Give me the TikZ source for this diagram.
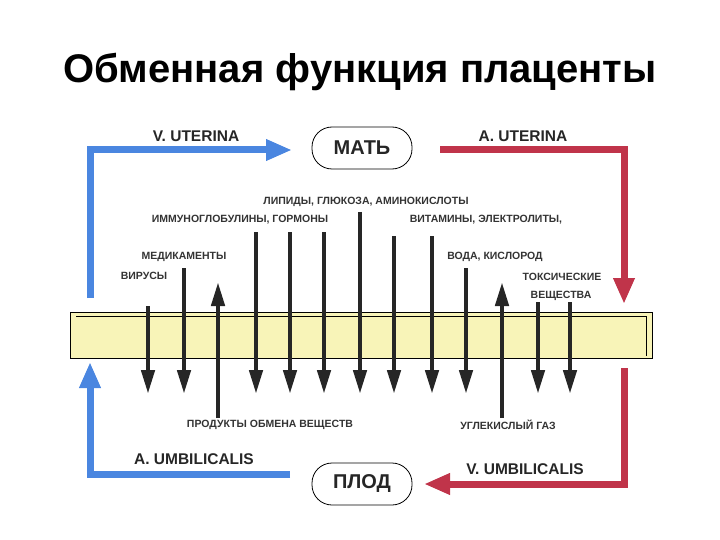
\documentclass[tikz,border=0pt]{standalone}
\usepackage{fontspec}
\setmainfont{Liberation Sans}
\usetikzlibrary{arrows.meta}
\begin{document}
\begin{tikzpicture}[x=1pt,y=-1pt,
  lbl/.style={font=\bfseries\fontsize{10.5}{11}\selectfont, text=black!80},
  big/.style={font=\bfseries\fontsize{15.5}{16}\selectfont, text=black!85},
  flow/.style={line width=4.5pt, draw=black!85, -{Triangle[width=13pt,length=24pt]}},
  vessel/.style={line width=7pt, -{Triangle[width=20pt,length=26pt]}},
  organ/.style={draw, thick, rounded corners=20pt, minimum width=100pt, minimum height=42pt, font=\bfseries\fontsize{20}{22}\selectfont, text=black!85}]
\useasboundingbox (0,0) rectangle (720,540);
\definecolor{bl}{HTML}{4A86E0}
\definecolor{rd}{HTML}{C0344A}
\definecolor{pl}{HTML}{F8F4B8}
\node[font=\bfseries\fontsize{40}{44}\selectfont] (title) at (360,72) {Обменная функция плаценты};
\node[organ] (mat) at (362,148) {МАТЬ};
\node[organ] (plod) at (362,484) {ПЛОД};
\node[draw, fill=pl, minimum width=582pt, minimum height=46pt, inner sep=0pt] (plac) at (361,335) {};
\draw (76,316) -- (646,316) -- (646,356);
\coordinate (b1) at (90,298); \coordinate (b2) at (90,150); \coordinate (b3) at (292,150);
\draw[vessel, draw=bl] (b1) -- (b2) -- (b3);
\coordinate (r1) at (440,150); \coordinate (r2) at (624,150); \coordinate (r3) at (624,304);
\draw[vessel, draw=rd] (r1) -- (r2) -- (r3);
\coordinate (c1) at (290,474); \coordinate (c2) at (90,474); \coordinate (c3) at (90,362);
\draw[vessel, draw=bl] (c1) -- (c2) -- (c3);
\coordinate (d1) at (624,368); \coordinate (d2) at (624,484); \coordinate (d3) at (424,484);
\draw[vessel, draw=rd] (d1) -- (d2) -- (d3);
\node[big] (vu) at (196,136) {V. UTERINA};
\node[big] (au) at (523,136) {A. UTERINA};
\node[big] (aum) at (194,459) {A. UMBILICALIS};
\node[big] (vum) at (525,469) {V. UMBILICALIS};
\foreach \x/\t in {148/306,184/268,256/232,290/232,324/232,360/212,394/236,432/236,466/268,538/302,570/302}
  \draw[flow] (\x,\t) -- (\x,394);
\draw[flow] (218,418) -- (218,282);
\draw[flow] (502,418) -- (502,282);
\node[lbl] at (366,202) {ЛИПИДЫ, ГЛЮКОЗА, АМИНОКИСЛОТЫ};
\node[lbl] at (240,220) {ИММУНОГЛОБУЛИНЫ, ГОРМОНЫ};
\node[lbl] at (486,220) {ВИТАМИНЫ, ЭЛЕКТРОЛИТЫ,};
\node[lbl] at (184,257) {МЕДИКАМЕНТЫ};
\node[lbl] at (144,276) {ВИРУСЫ};
\node[lbl] at (495,257) {ВОДА, КИСЛОРОД};
\node[lbl] at (562,277) {ТОКСИЧЕСКИЕ};
\node[lbl] at (561,296) {ВЕЩЕСТВА};
\node[lbl] at (270,425) {ПРОДУКТЫ ОБМЕНА ВЕЩЕСТВ};
\node[lbl] at (508,425) {УГЛЕКИСЛЫЙ ГАЗ};
\end{tikzpicture}
\end{document}
